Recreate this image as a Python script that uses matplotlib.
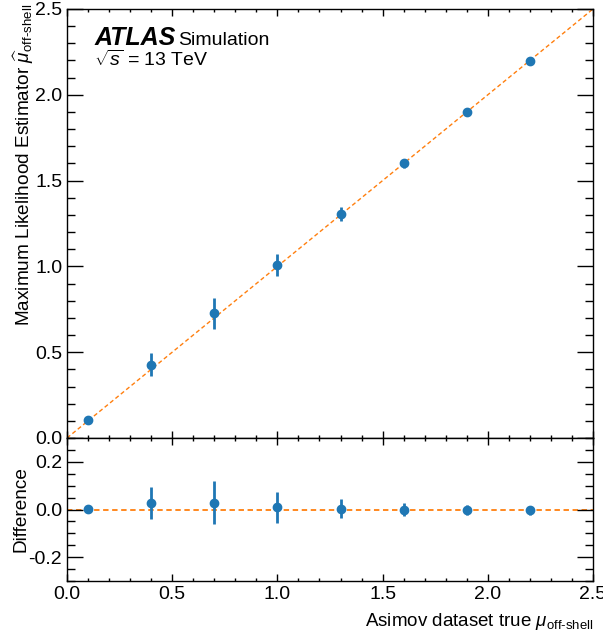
import numpy as np
import matplotlib
matplotlib.use("Agg")
import matplotlib.pyplot as plt
from matplotlib.ticker import MultipleLocator

plt.rcParams['font.family'] = ['Liberation Sans', 'DejaVu Sans']
plt.rcParams['mathtext.fontset'] = 'custom'
plt.rcParams['mathtext.rm'] = 'Liberation Sans'
plt.rcParams['mathtext.it'] = 'Liberation Sans:italic'
plt.rcParams['mathtext.bf'] = 'Liberation Sans:bold'

# Data
mu_true = [0.1, 0.4, 0.7, 1.0, 1.3, 1.6, 1.9, 2.2]
difference = [0.003, 0.027, 0.028, 0.01, 0.004, 0.0, -0.002, -0.004]
errors = [0.01, 0.067, 0.09, 0.065, 0.04, 0.027, 0.022, 0.02]
mu_hat = [t + d for t, d in zip(mu_true, difference)]

W, H = 603, 637
fig = plt.figure(figsize=(W / 100, H / 100), dpi=100)
left, right = 67 / W, 593 / W
ax1 = fig.add_axes([left, 1 - 438 / H, right - left, (438 - 9) / H])
ax2 = fig.add_axes([left, 1 - 581 / H, right - left, (581 - 438) / H], sharex=ax1)

blue = '#1f77b4'
orange = '#ff7f0e'

ax1.plot([0, 2.5], [0, 2.5], ls=(0, (3, 2)), color=orange, lw=1.0, zorder=1)
ax1.errorbar(mu_true, mu_hat, yerr=errors, fmt='o', color=blue, ms=6,
             elinewidth=2, capsize=0, zorder=3)
ax2.axhline(0, ls=(0, (3, 2)), color=orange, lw=1.3, zorder=1)
ax2.errorbar(mu_true, difference, yerr=errors, fmt='o', color=blue, ms=6,
             elinewidth=2, capsize=0, zorder=3)

ax1.set_xlim(0, 2.5)
ax1.set_ylim(0, 2.5)
ax2.set_ylim(-0.3, 0.3)

for ax in (ax1, ax2):
    ax.xaxis.set_major_locator(MultipleLocator(0.5))
    ax.xaxis.set_minor_locator(MultipleLocator(0.1))
    ax.tick_params(axis='both', which='both', direction='in', top=True, right=True,
                   labelsize=14)
    ax.tick_params(axis='x', which='major', length=5, width=1)
    ax.tick_params(axis='x', which='minor', length=2.5, width=1)
    ax.tick_params(axis='y', which='major', length=11.5, width=1)
    ax.tick_params(axis='y', which='minor', length=5.8, width=1)
    for s in ax.spines.values():
        s.set_linewidth(1.0)

ax1.yaxis.set_major_locator(MultipleLocator(0.5))
ax1.yaxis.set_minor_locator(MultipleLocator(0.1))
ax2.yaxis.set_major_locator(MultipleLocator(0.2))
ax2.yaxis.set_minor_locator(MultipleLocator(0.05))
ax1.tick_params(axis='x', labelbottom=False)
ax1.yaxis.set_major_formatter(plt.FormatStrFormatter('%.1f'))
ax2.yaxis.set_major_formatter(plt.FormatStrFormatter('%.1f'))
ax2.xaxis.set_major_formatter(plt.FormatStrFormatter('%.1f'))

ax1.set_ylabel(r'Maximum Likelihood Estimator $\widehat{\mu}_{\mathrm{off\text{-}shell}}$',
               fontsize=13.7, loc='top')
ax1.yaxis.set_label_coords(-0.059, 1.012)
ax2.set_ylabel('Difference', fontsize=13.7)
ax2.yaxis.set_label_coords(-0.072, 0.5)
ax2.set_xlabel(r'Asimov dataset true $\mu_{\mathrm{off\text{-}shell}}$', fontsize=13.5,
               loc='right')
ax2.xaxis.set_label_coords(1.0, -0.21)

ax1.text(0.052, 0.915, 'ATLAS', transform=ax1.transAxes, fontsize=18,
         fontweight='bold', fontstyle='italic', va='baseline')
ax1.text(0.211, 0.915, 'Simulation', transform=ax1.transAxes, fontsize=14, va='baseline')
ax1.text(0.052, 0.868, r'$\sqrt{s}$ = 13 TeV', transform=ax1.transAxes, fontsize=14,
         va='baseline')

fig.savefig('out.png', dpi=100)
